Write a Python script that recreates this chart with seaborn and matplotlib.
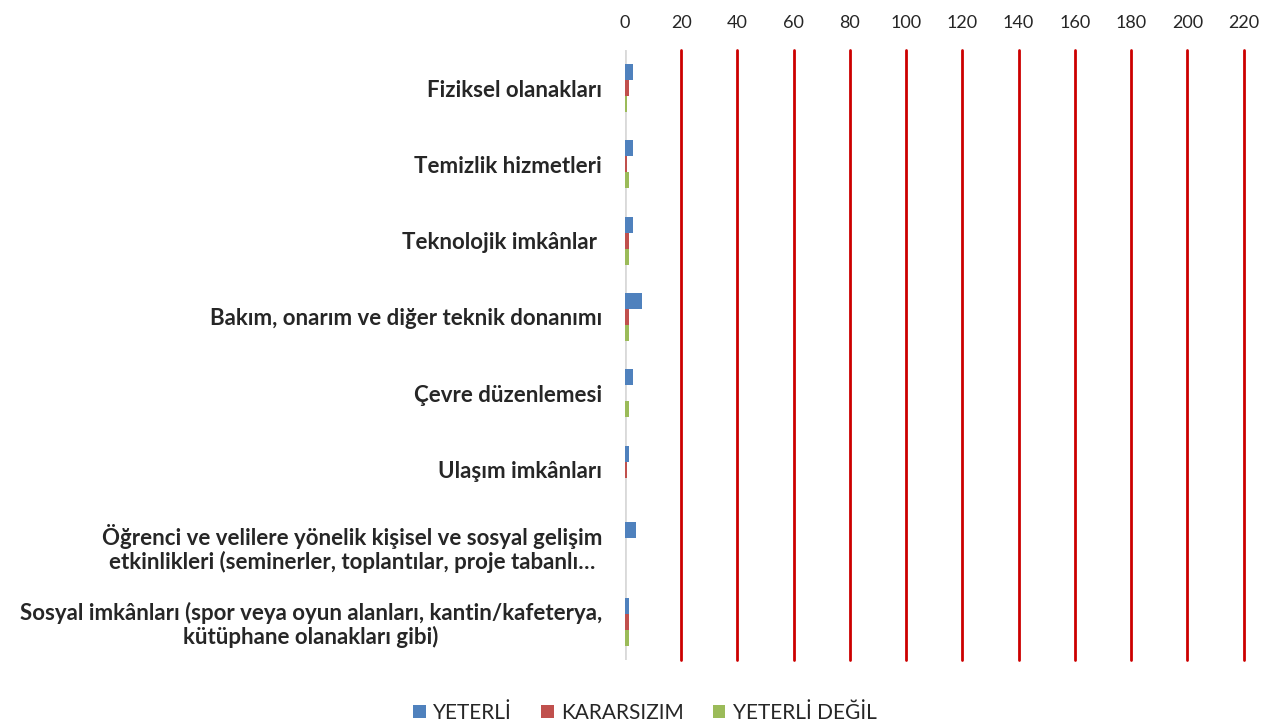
import pandas as pd
import numpy as np
import seaborn as sns
import matplotlib.pyplot as plt

# Data
categories = [
    "Fiziksel olanakları",
    "Temizlik hizmetleri",
    "Teknolojik imkânlar ",
    "Bakım, onarım ve diğer teknik donanımı",
    "Çevre düzenlemesi",
    "Ulaşım imkânları",
    "Öğrenci ve velilere yönelik kişisel ve sosyal gelişim\netkinlikleri (seminerler, toplantılar, proje tabanlı…",
    "Sosyal imkânları (spor veya oyun alanları, kantin/kafeterya,\nkütüphane olanakları gibi)",
]
series = ["YETERLİ", "KARARSIZIM", "YETERLİ DEĞİL"]
yeterli = [3, 3, 3, 6, 3, 1.5, 4, 1.5]
kararsizim = [1.6, 0.6, 1.6, 1.6, 0, 0.6, 0, 1.6]
yeterli_degil = [0.7, 1.6, 1.6, 1.6, 1.6, 0, 0, 1.6]
ticks = list(range(0, 221, 20))
colors = ["#4F81BD", "#C0504D", "#9BBB59"]

df = pd.DataFrame({
    "kategori": categories * 3,
    "seri": [s for s in series for _ in categories],
    "deger": yeterli + kararsizim + yeterli_degil,
})

sns.set_style("white")
plt.rcParams["font.family"] = ["Lato", "DejaVu Sans"]

fig = plt.figure(figsize=(12.82, 7.24), dpi=100)
ax = fig.add_axes([0.4875, 0.088, 0.4825, 0.843])

sns.barplot(data=df, y="kategori", x="deger", hue="seri", orient="h",
            palette=colors, width=0.63, gap=0, dodge=True, ax=ax,
            order=categories, hue_order=series, errorbar=None,
            edgecolor="none", saturation=1, zorder=3)

ax.set_xlim(0, 220)
ax.set_xticks(ticks)
ax.xaxis.tick_top()
ax.tick_params(axis="x", length=0, labelsize=13, pad=14)
ax.tick_params(axis="y", length=0, labelsize=16, pad=16.5)
for lab in ax.get_yticklabels():
    lab.set_fontweight("bold")
    lab.set_multialignment("center")
    lab.set_linespacing(1.1)
for t in ticks[1:]:
    ax.axvline(t, color="#CC0000", lw=2, zorder=1, clip_on=False)
ax.axvline(0, color="#D9D9D9", lw=2, zorder=2)
for s in ax.spines.values():
    s.set_visible(False)
ax.set_xlabel("")
ax.set_ylabel("")
ax.grid(False)

sns.move_legend(ax, "center", bbox_to_anchor=(645 / 1282, 1 - 713 / 724),
                bbox_transform=fig.transFigure, ncol=3, frameon=False,
                fontsize=15, handlelength=0.6, handleheight=0.6, handletextpad=0.35,
                columnspacing=1.4, title=None)

fig.savefig("out.png", dpi=100)
